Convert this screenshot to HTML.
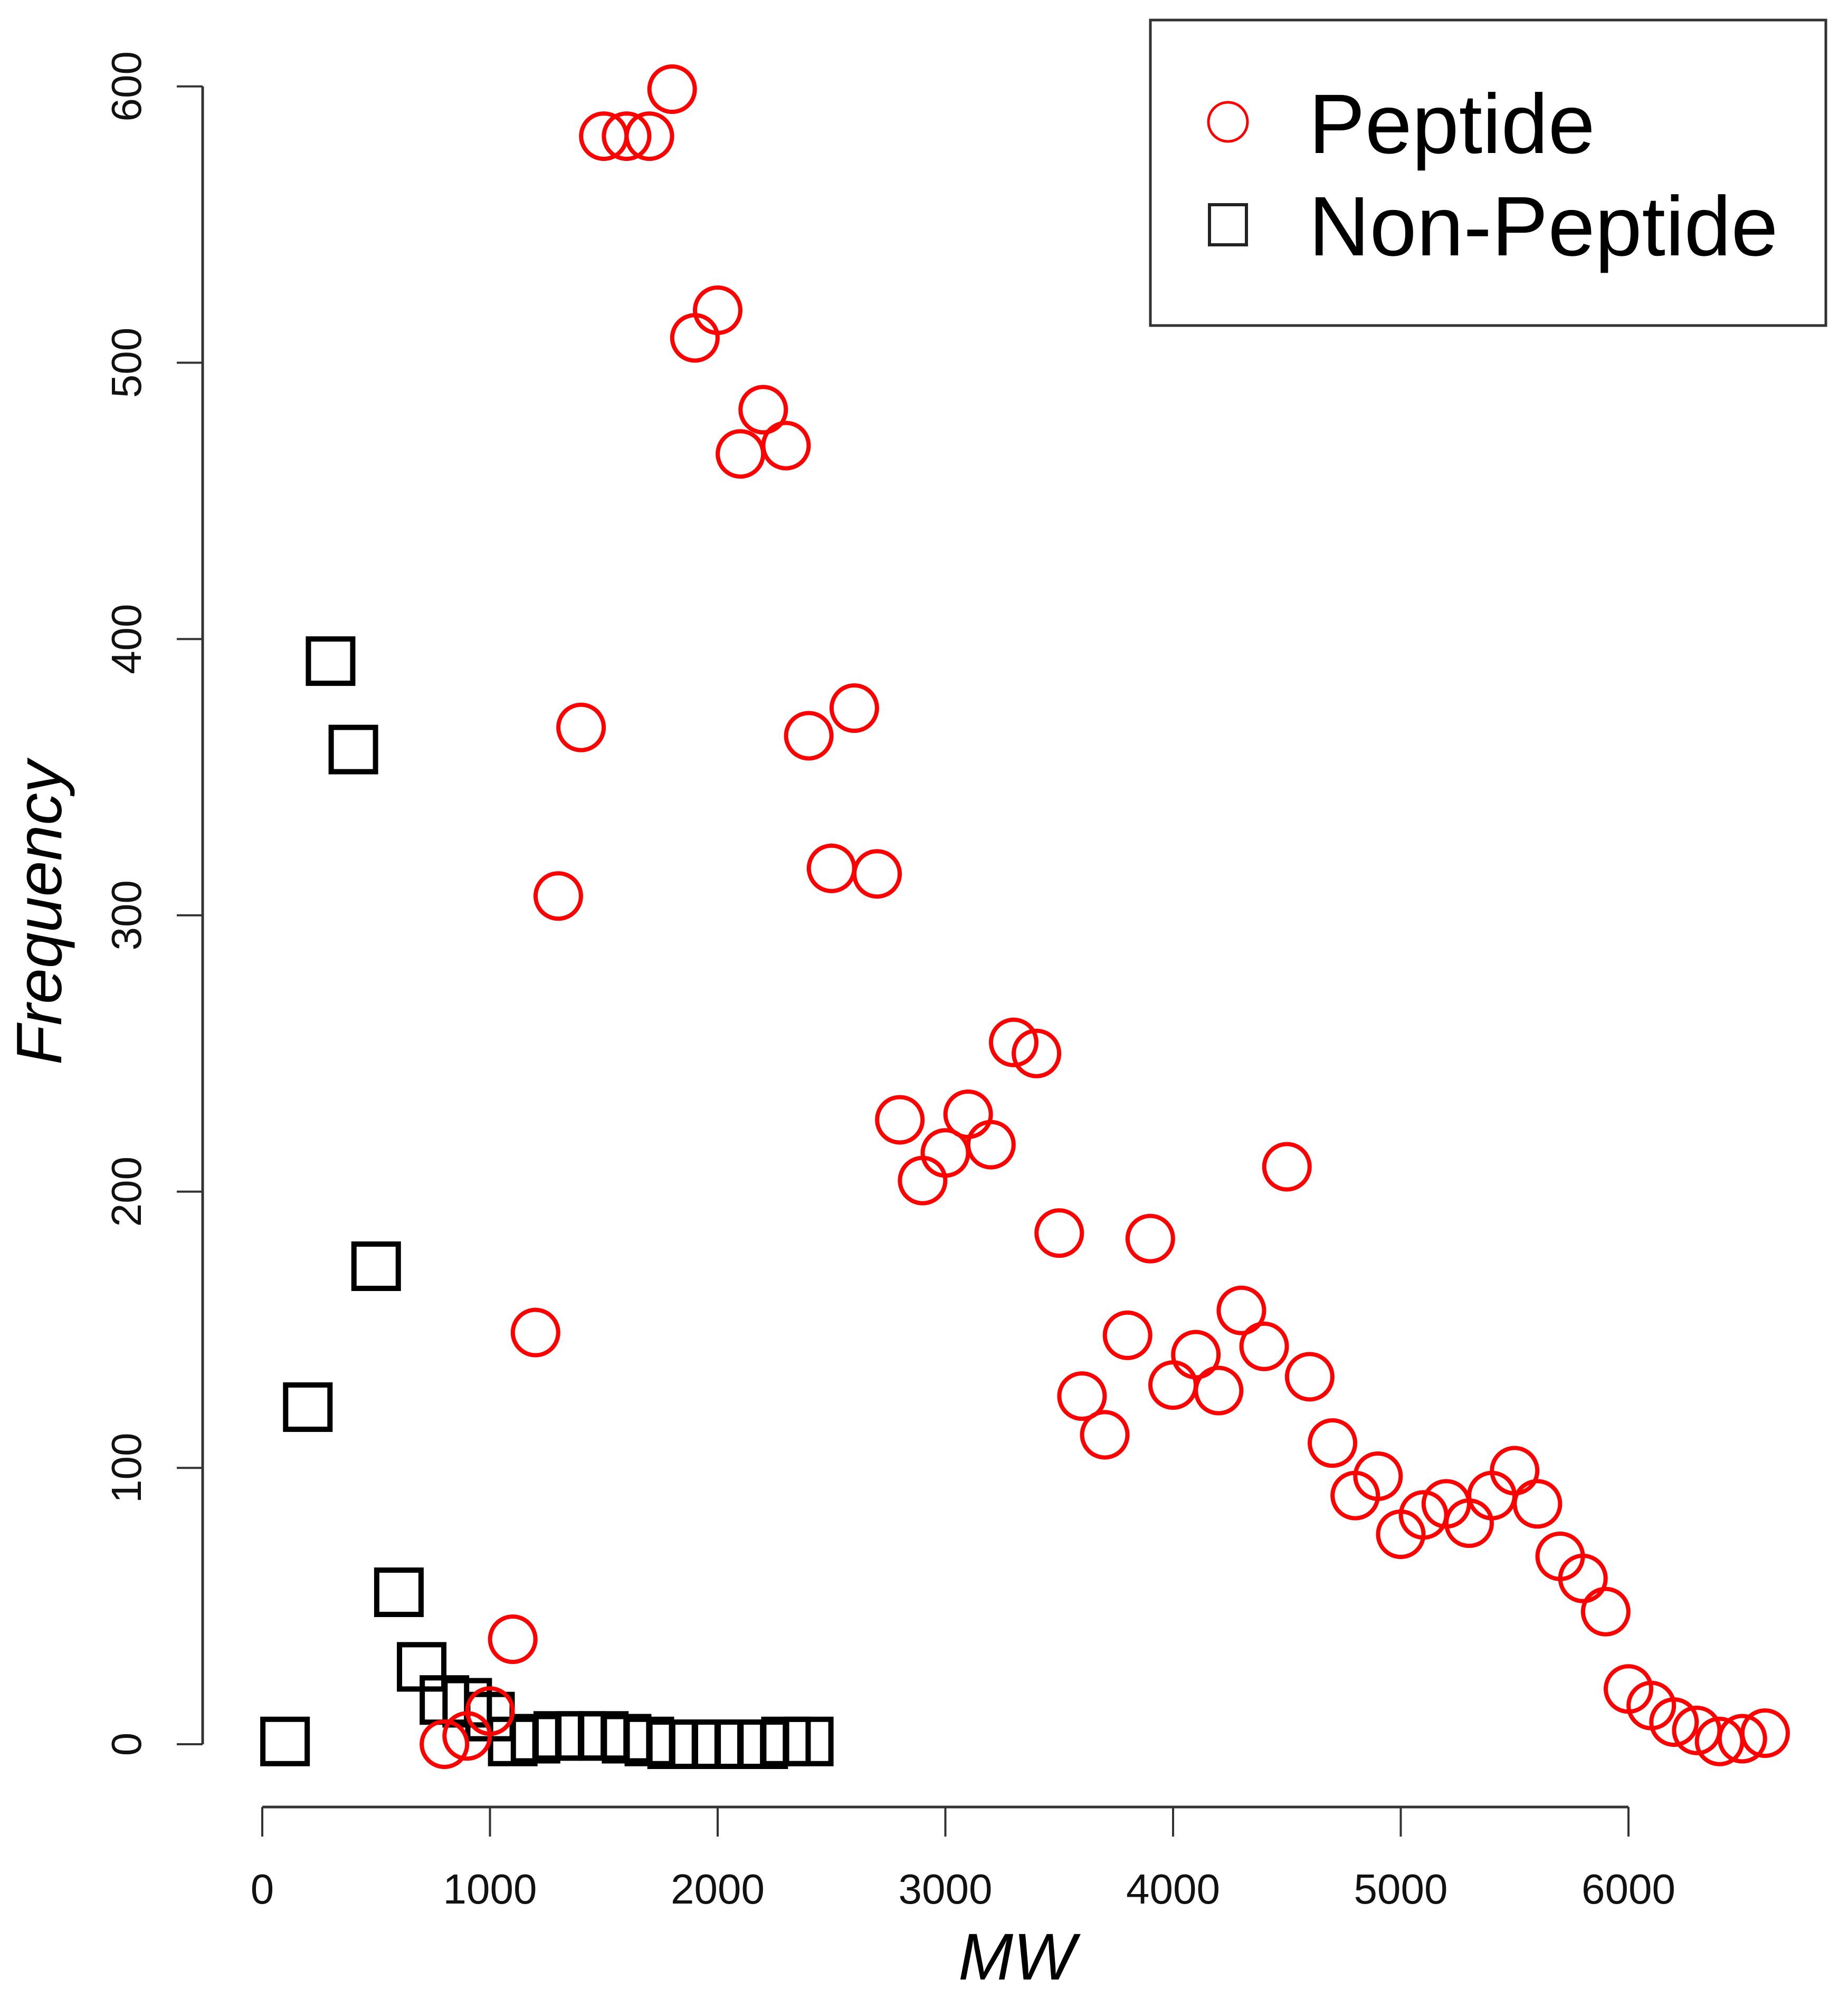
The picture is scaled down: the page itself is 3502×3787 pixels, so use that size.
<!DOCTYPE html>
<html><head><meta charset="utf-8"><style>
html,body{margin:0;padding:0;background:#fff}
svg{display:block}
text{font-family:"Liberation Sans",Arial,sans-serif}
</style></head><body>
<svg id="chart" width="3502" height="3787" viewBox="0 0 3502 3787" xmlns="http://www.w3.org/2000/svg">
<rect width="3502" height="3787" fill="#fff"/>
<g id="axes"></g>
<g id="marks"></g>
<g id="legend">
  <rect x="2180" y="38" width="1280" height="579" fill="#fff" stroke="#333" stroke-width="5"/>
  <circle cx="2327" cy="231" r="37" fill="none" stroke="#f00" stroke-width="5"/>
  <text x="2480" y="290" font-size="160">Peptide</text>
  <rect x="2292" y="388" width="70" height="76" fill="none" stroke="#222" stroke-width="6"/>
  <text x="2480" y="484" font-size="160">Non-Peptide</text>
</g>
<text x="1927" y="3752" font-size="125" font-style="italic" text-anchor="middle">MW</text>
<text transform="translate(116,1730) rotate(-90)" font-size="122" font-style="italic" text-anchor="middle">Frequency</text>
</svg>
<script>
const xTicks = [0,1000,2000,3000,4000,5000,6000];
const yTicks = [0,100,200,300,400,500,600];
const peptideMW = [800,900,1000,1100,1200,1300,1400,1500,1600,1700,1800,1900,2000,2100,2200,2300,2400,2500,2600,2700,2800,2900,3000,3100,3200,3300,3400,3500,3600,3700,3800,3900,4000,4100,4200,4300,4400,4500,4600,4700,4800,4900,5000,5100,5200,5300,5400,5500,5600,5700,5800,5900,6000,6100,6200,6300,6400,6500,6600];
const peptideFreq = [0,3,12,38,149,307,368,582,582,582,599,509,519,467,483,470,365,317,375,315,226,204,214,228,217,254,250,185,126,112,148,183,130,141,128,157,144,209,133,109,90,97,76,83,87,80,90,99,87,68,60,48,20,14,8,5,1,2,4];
const nonPeptideMW = [100,200,300,400,500,600,700,800,900,1000,1100,1200,1300,1400,1500,1600,1700,1800,1900,2000,2100,2200,2300,2400];
const nonPeptideFreq = [1,122,392,360,173,55,28,16,15,10,1,2,3,3,3,2,1,0,0,0,0,0,1,1];

const NS='http://www.w3.org/2000/svg';
const X0=497, XS=0.4315, Y0=3306, YS=5.237;
function sx(v){return X0+v*XS;}
function sy(v){return Y0-v*YS;}
function mk(tag,attrs,parent){const e=document.createElementNS(NS,tag);for(const k in attrs)e.setAttribute(k,attrs[k]);parent.appendChild(e);return e;}
const axes=document.getElementById('axes');
const marks=document.getElementById('marks');

// x axis
let xl=mk('line',{x1:sx(xTicks[0]),x2:sx(xTicks[xTicks.length-1]),y1:3425,y2:3425,stroke:'#333','stroke-width':5},axes);


xTicks.forEach(t=>{
  const tk=mk('line',{x1:sx(t),x2:sx(t),y1:3425,y2:3481,stroke:'#333','stroke-width':4},axes);
  
  
  const lb=mk('text',{x:sx(t),y:3608,'font-size':80,'text-anchor':'middle',fill:'#111'},axes);
  lb.textContent=t;
  
  
});
// y axis
let yl=mk('line',{x1:384,x2:384,y1:sy(yTicks[0]),y2:sy(yTicks[yTicks.length-1]),stroke:'#333','stroke-width':5},axes);


yTicks.forEach(t=>{
  const tk=mk('line',{x1:335,x2:384,y1:sy(t),y2:sy(t),stroke:'#333','stroke-width':4},axes);
  
  
  const lb=mk('text',{transform:'translate(267,'+sy(t)+') rotate(-90)','font-size':80,'text-anchor':'middle',fill:'#111'},axes);
  lb.textContent=t;
  
  
});
// non-peptide squares
nonPeptideMW.forEach((m,i)=>{
  const s=mk('rect',{x:sx(m)-42,y:sy(nonPeptideFreq[i])-42,width:84,height:84,fill:'none',stroke:'#000','stroke-width':10},marks);
  
  
});
// peptide circles
peptideMW.forEach((m,i)=>{
  const c=mk('circle',{cx:sx(m),cy:sy(peptideFreq[i]),r:43,fill:'none',stroke:'#f00','stroke-width':8},marks);
  
  
});
</script>
</body></html>
